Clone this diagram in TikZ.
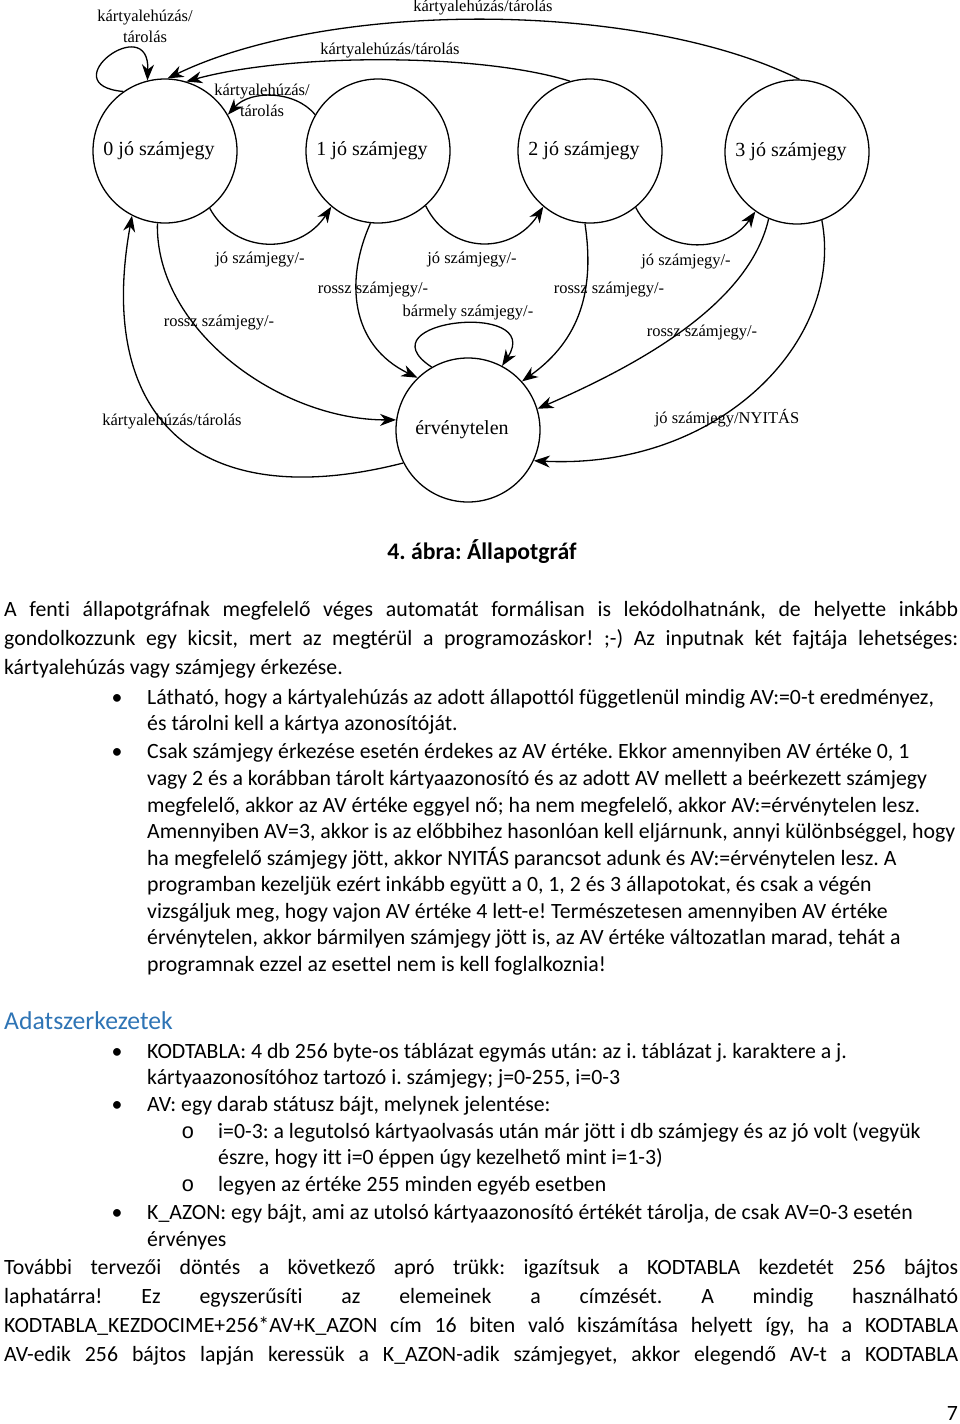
\documentclass[tikz,border=0pt]{standalone}
\usepackage{fontspec}
\setmainfont{Carlito}[Ligatures=NoCommon]
\newfontfamily\graphfont{Liberation Serif}
\newfontfamily\circfont{Liberation Mono}
\usetikzlibrary{arrows.meta}
\definecolor{headblue}{HTML}{2E74B5}
\frenchspacing
\begin{document}
\begin{tikzpicture}[x=1pt, y=-1pt,
	state style/.style={circle, draw, line width=1.3pt, minimum size=144pt, inner sep=0pt, font=\graphfont\fontsize{20}{24}\selectfont},
	trans style/.style={-{Stealth[length=16pt, width=12pt, inset=5pt]}, line width=1.3pt},
	cond style/.style={inner sep=0pt, align=center, font=\graphfont\fontsize{16.5}{21}\selectfont},
	para style/.style={anchor=base west, inner sep=0pt, font=\fontsize{21.8}{26.6}\selectfont},
	dot style/.style={anchor=base, inner sep=0pt, font=\fontsize{21.8}{26.6}\selectfont}]
	\useasboundingbox (0,0) rectangle (960,1424);
	% allapotok
	\node[state style] (Q0) at (165,151) {0 jó számjegy\hspace*{12pt}};
	\node[state style] (Q1) at (378,151) {1 jó számjegy\hspace*{12pt}};
	\node[state style] (Q2) at (590,151) {2 jó számjegy\hspace*{12pt}};
	\node[state style] (Q3) at (797,152) {3 jó számjegy\hspace*{12pt}};
	\node[state style] (Q4) at (468,430) {érvénytelen\hspace*{12pt}};
	% atmenetek
	\draw[trans style] (Q0.125) .. controls (50,85) and (150,10) .. (Q0.104);
	\draw[trans style] (Q3.88) .. controls (640,0) and (330,0) .. (Q0.88);
	\draw[trans style] (Q2.106) .. controls (480,53) and (290,53) .. (Q0.73);
	\draw[trans style] (Q1.150) .. controls (295,90) and (250,90) .. (Q0.30);
	\draw[trans style] (Q0.308) .. controls (235,255) and (300,255) .. (Q1.230);
	\draw[trans style] (Q1.311) .. controls (450,255) and (512,255) .. (Q2.230);
	\draw[trans style] (Q2.309) .. controls (660,255) and (725,255) .. (Q3.235);
	\draw[trans style] (Q0.264) .. controls (155,330) and (280,420) .. (Q4.172);
	\draw[trans style] (Q1.264) .. controls (345,280) and (350,345) .. (Q4.134);
	\draw[trans style] (Q2.266) .. controls (595,290) and (580,340) .. (Q4.42);
	\draw[trans style] (Q3.247) .. controls (750,300) and (650,360) .. (Q4.17);
	\draw[trans style] (Q3.290) .. controls (845,340) and (720,470) .. (Q4.335);
	\draw[trans style] (Q4.207) .. controls (200,515) and (95,420) .. (Q0.243);
	\draw[trans style] (Q4.120) .. controls (360,320) and (545,300) .. (Q4.62);
	% feliratok
	\node[cond style] (T1) at (483,8) {kártyalehúzás/tárolás};
	\node[cond style] (T2) at (390,51) {kártyalehúzás/tárolás};
	\node[cond style] (T3) at (262,100) {kártyalehúzás/\\tárolás};
	\node[cond style] (T4) at (145,26) {kártyalehúzás/\\tárolás};
	\node[cond style] (T5) at (260,260) {jó számjegy/-};
	\node[cond style] (T6) at (472,260) {jó számjegy/-};
	\node[cond style] (T7) at (686,262) {jó számjegy/-};
	\node[cond style] (T8) at (219,323) {rossz számjegy/-};
	\node[cond style] (T9) at (373,290) {rossz számjegy/-};
	\node[cond style] (T10) at (609,290) {rossz számjegy/-};
	\node[cond style] (T11) at (702,333) {rossz számjegy/-};
	\node[cond style] (T12) at (727,418) {jó számjegy/NYITÁS};
	\node[cond style] (T13) at (172,422) {kártyalehúzás/tárolás};
	\node[cond style] (T14) at (468,313) {bármely számjegy/-};
	% szoveg
	\node[anchor=base, inner sep=0pt, font=\bfseries\fontsize{23.7}{28}\selectfont] (C1) at (482,559) {4. ábra: Állapotgráf};
	\node[para style] (P1) at (4,616) {\makebox[954pt][s]{A fenti állapotgráfnak megfelelő véges automatát formálisan is lekódolhatnánk, de helyette inkább}};
	\node[para style] (P2) at (4,645) {\makebox[954pt][s]{gondolkozzunk egy kicsit, mert az megtérül a programozáskor! ;-) Az inputnak két fajtája lehetséges:}};
	\node[para style] (P3) at (4,674) {kártyalehúzás vagy számjegy érkezése.};
	\node[dot style] (B1) at (117,704) {•};
	\node[para style] (P4) at (147,704) {Látható, hogy a kártyalehúzás az adott állapottól függetlenül mindig AV:=0-t eredményez,};
	\node[para style] (P5) at (147,730) {és tárolni kell a kártya azonosítóját.};
	\node[dot style] (B2) at (117,758) {•};
	\node[para style] (P6) at (147,758) {Csak számjegy érkezése esetén érdekes az AV értéke. Ekkor amennyiben AV értéke 0, 1};
	\node[para style] (P7) at (147,785) {vagy 2 és a korábban tárolt kártyaazonosító és az adott AV mellett a beérkezett számjegy};
	\node[para style] (P8) at (147,812) {megfelelő, akkor az AV értéke eggyel nő; ha nem megfelelő, akkor AV:=érvénytelen lesz.};
	\node[para style] (P9) at (147,838) {Amennyiben AV=3, akkor is az előbbihez hasonlóan kell eljárnunk, annyi különbséggel, hogy};
	\node[para style] (P10) at (147,865) {ha megfelelő számjegy jött, akkor NYITÁS parancsot adunk és AV:=érvénytelen lesz. A};
	\node[para style] (P11) at (147,891) {programban kezeljük ezért inkább együtt a 0, 1, 2 és 3 állapotokat, és csak a végén};
	\node[para style] (P12) at (147,918) {vizsgáljuk meg, hogy vajon AV értéke 4 lett-e! Természetesen amennyiben AV értéke};
	\node[para style] (P13) at (147,944) {érvénytelen, akkor bármilyen számjegy jött is, az AV értéke változatlan marad, tehát a};
	\node[para style] (P14) at (147,971) {programnak ezzel az esettel nem is kell foglalkoznia!};
	\node[para style, text=headblue, font=\fontsize{25.7}{30}\selectfont] (H1) at (4,1029) {Adatszerkezetek};
	\node[dot style] (B3) at (117,1058) {•};
	\node[para style] (P15) at (147,1058) {KODTABLA: 4 db 256 byte-os táblázat egymás után: az i. táblázat j. karaktere a j.};
	\node[para style] (P16) at (147,1084) {kártyaazonosítóhoz tartozó i. számjegy; j=0-255, i=0-3};
	\node[dot style] (B4) at (117,1111) {•};
	\node[para style] (P17) at (147,1111) {AV: egy darab státusz bájt, melynek jelentése:};
	\node[dot style, font=\circfont\fontsize{21.8}{26.6}\selectfont] (O1) at (188,1138) {o};
	\node[para style] (P18) at (218,1138) {i=0-3: a legutolsó kártyaolvasás után már jött i db számjegy és az jó volt (vegyük};
	\node[para style] (P19) at (218,1164) {észre, hogy itt i=0 éppen úgy kezelhető mint i=1-3)};
	\node[dot style, font=\circfont\fontsize{21.8}{26.6}\selectfont] (O2) at (188,1191) {o};
	\node[para style] (P20) at (218,1191) {legyen az értéke 255 minden egyéb esetben};
	\node[dot style] (B5) at (117,1219) {•};
	\node[para style] (P21) at (147,1219) {K\_AZON: egy bájt, ami az utolsó kártyaazonosító értékét tárolja, de csak AV=0-3 esetén};
	\node[para style] (P22) at (147,1246) {érvényes};
	\node[para style] (P23) at (4,1274) {\makebox[954pt][s]{További tervezői döntés a következő apró trükk: igazítsuk a KODTABLA kezdetét 256 bájtos}};
	\node[para style] (P24) at (4,1303) {\makebox[954pt][s]{laphatárra! Ez egyszerűsíti az elemeinek a címzését. A mindig használható}};
	\node[para style] (P25) at (4,1332) {\makebox[954pt][s]{KODTABLA\_KEZDOCIME+256*AV+K\_AZON cím 16 biten való kiszámítása helyett így, ha a KODTABLA}};
	\node[para style] (P26) at (4,1361) {\makebox[954pt][s]{AV-edik 256 bájtos lapján keressük a K\_AZON-adik számjegyet, akkor elegendő AV-t a KODTABLA}};
	\node[anchor=base east, inner sep=0pt, font=\fontsize{21.8}{26.6}\selectfont] (N1) at (958,1420) {7};
\end{tikzpicture}
\end{document}
